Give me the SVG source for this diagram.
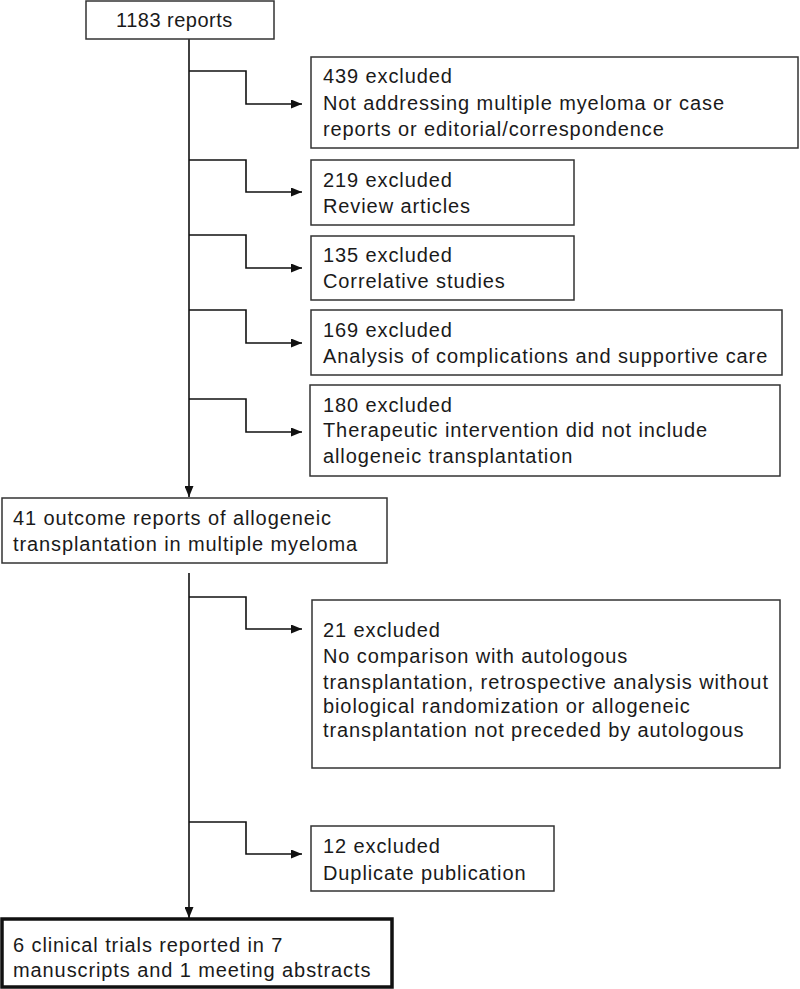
<svg xmlns="http://www.w3.org/2000/svg" width="800" height="989" viewBox="0 0 800 989">
<defs>
<marker id="ah" markerWidth="11" markerHeight="9" viewBox="0 0 11 9" refX="11" refY="4.5" orient="auto" markerUnits="userSpaceOnUse">
<path d="M0,0 L11,4.5 L0,9 Z" fill="#111"/>
</marker>
</defs>
<style>
.box{fill:#fff;stroke:#333;stroke-width:1.5}
.bold{fill:#fff;stroke:#111;stroke-width:3.5}
.conn{fill:none;stroke:#111;stroke-width:1.6}
text{font-family:"Liberation Sans",Arial,sans-serif;font-size:20px;letter-spacing:0.9px;fill:#1a1a1a}
</style>
<g id="connectors">
<path class="conn" d="M189,39 V497" marker-end="url(#ah)"/>
<path class="conn" d="M189,71 H246 V104 H302" marker-end="url(#ah)"/>
<path class="conn" d="M189,160 H246 V192 H302" marker-end="url(#ah)"/>
<path class="conn" d="M189,235 H246 V268 H302" marker-end="url(#ah)"/>
<path class="conn" d="M189,310 H246 V343 H302" marker-end="url(#ah)"/>
<path class="conn" d="M189,399 H246 V432 H302" marker-end="url(#ah)"/>
<path class="conn" d="M189,573 V918" marker-end="url(#ah)"/>
<path class="conn" d="M189,597 H246 V629 H302" marker-end="url(#ah)"/>
<path class="conn" d="M189,822 H246 V854 H302" marker-end="url(#ah)"/>
</g>
<g id="n1183">
<rect class="box" x="86" y="1" width="188" height="38"/>
<text x="116" y="27" style="letter-spacing:0.5px">1183 reports</text>
</g>
<g id="n439">
<rect class="box" x="311" y="57" width="487" height="91"/>
<text x="323" y="83">439 excluded</text>
<text x="323" y="110">Not addressing multiple myeloma or case</text>
<text x="323" y="136">reports or editorial/correspondence</text>
</g>
<g id="n219">
<rect class="box" x="311" y="160" width="263" height="65"/>
<text x="323" y="187">219 excluded</text>
<text x="323" y="213">Review articles</text>
</g>
<g id="n135">
<rect class="box" x="311" y="236" width="263" height="64"/>
<text x="323" y="262">135 excluded</text>
<text x="323" y="288">Correlative studies</text>
</g>
<g id="n169">
<rect class="box" x="311" y="310" width="471" height="65"/>
<text x="323" y="337">169 excluded</text>
<text x="323" y="363">Analysis of complications and supportive care</text>
</g>
<g id="n180">
<rect class="box" x="310" y="385" width="470" height="91"/>
<text x="323" y="412">180 excluded</text>
<text x="323" y="437">Therapeutic intervention did not include</text>
<text x="323" y="463">allogeneic transplantation</text>
</g>
<g id="n41">
<rect class="box" x="2" y="498" width="385" height="65"/>
<text x="13" y="525">41 outcome reports of allogeneic</text>
<text x="13" y="551">transplantation in multiple myeloma</text>
</g>
<g id="n21">
<rect class="box" x="312" y="600" width="468" height="168"/>
<text x="323" y="637">21 excluded</text>
<text x="323" y="663">No comparison with autologous</text>
<text x="323" y="689">transplantation, retrospective analysis without</text>
<text x="323" y="713">biological randomization or allogeneic</text>
<text x="323" y="737">transplantation not preceded by autologous</text>
</g>
<g id="n12">
<rect class="box" x="311" y="826" width="243" height="65"/>
<text x="323" y="853">12 excluded</text>
<text x="323" y="880">Duplicate publication</text>
</g>
<g id="nfinal">
<rect class="bold" x="2" y="919" width="390" height="68"/>
<text x="13" y="952">6 clinical trials reported in 7</text>
<text x="13" y="977">manuscripts and 1 meeting abstracts</text>
</g>
</svg>
